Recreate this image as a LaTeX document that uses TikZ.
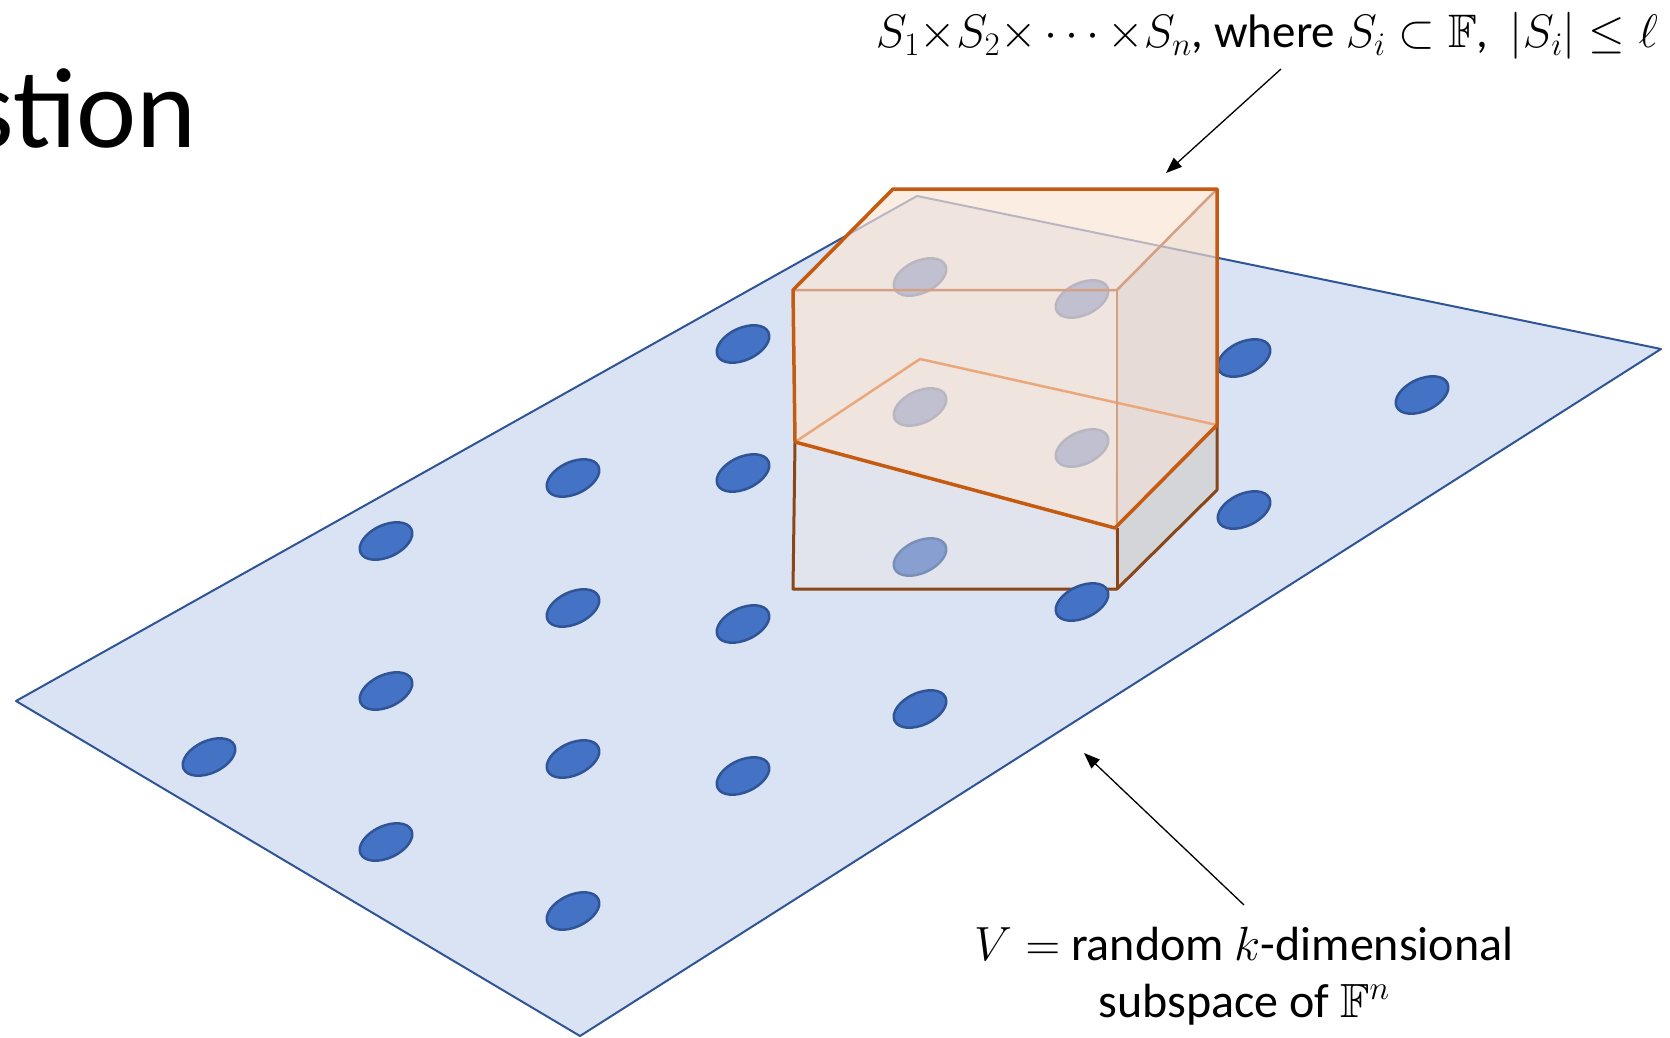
\RequirePackage{fix-cm}
\documentclass[tikz,border=0pt]{standalone}
\usepackage{amssymb}
\usepackage{fontspec}
\setmainfont{Carlito}
\usetikzlibrary{arrows.meta}
\definecolor{planefill}{HTML}{DAE3F3}
\definecolor{planeline}{HTML}{2F5597}
\definecolor{dotfill}{HTML}{4472C4}
\definecolor{dotline}{HTML}{2F5597}
\definecolor{orangeline}{HTML}{C55A11}
\definecolor{brownline}{HTML}{8A4616}
\definecolor{tanline}{HTML}{D3A181}
\definecolor{backline}{HTML}{E9A77B}
\definecolor{boxfill}{HTML}{FBE5D6}
\definecolor{lowfront}{HTML}{EDE6E6}
\definecolor{lowright}{HTML}{CBC0B4}
\tikzset{
  bluedot/.style={fill=dotfill, draw=dotline, line width=2.5pt},
  thickedge/.style={draw=orangeline, line width=3.5pt, line join=round},
  thinedge/.style={draw=tanline, line width=2.5pt},
  backedge/.style={draw=backline, line width=2.5pt, line join=round},
  lowedge/.style={draw=brownline, line width=3pt, line join=round},
  pointer/.style={line width=1.3pt, -{Triangle[length=16pt,width=12pt]}},
  lbl/.style={inner sep=0pt}
}
\begin{document}
\begin{tikzpicture}[x=1pt,y=-1pt]
\useasboundingbox (0,0) rectangle (1670,1038);
\clip (0,0) rectangle (1670,1038);
\fill[white] (0,0) rectangle (1670,1038);

% title fragment
\node[lbl, anchor=base east, font=\fontsize{114}{130}\selectfont] (title) at (197,147) {stion};

% plane
\draw[fill=planefill, draw=planeline, line width=2pt, line join=round]
  (16,701) -- (917,196) -- (1661,349) -- (580,1036) -- cycle;

% dots on the plane
\foreach \p in {(743,344),(1244,358),(1422,395),(573,478),(743,473),(1244,510),
                (386,541),(573,608),(743,624),(386,691),(920,709),(209,757),
                (573,759),(743,776),(386,842),(573,911),
                (920,277),(1082,299),(920,407),(1082,448),(920,557)}
  \draw[bluedot] \p ellipse [x radius=28, y radius=16, rotate=25];

% lower part of the box
\fill[lowfront, opacity=0.4] (795,442) -- (1115,528) -- (1117,589) -- (793,589) -- cycle;
\fill[lowright, opacity=0.4] (1115,528) -- (1217,425) -- (1217,490) -- (1117,589) -- cycle;

% upper translucent part of the box
\fill[boxfill, opacity=0.68] (793,290) -- (893,189) -- (1217,189) -- (1217,425)
  -- (1115,528) -- (795,442) -- cycle;
\fill[black, opacity=0.035] (1117,290) -- (1217,189) -- (1217,425) -- (1115,528) -- cycle;

% inner edges
\draw[backedge] (795,442) -- (920,359) -- (1217,425);
\draw[thinedge] (793,290) -- (1117,290) -- (1217,189);
\draw[thinedge] (1117,290) -- (1117,528);

% lower edges
\draw[lowedge] (795,442) -- (793,589) -- (1117,589) -- (1217,490) -- (1217,425);
\draw[lowedge] (1117,528) -- (1117,589);

% outer orange edges
\draw[thickedge] (795,442) -- (793,290) -- (893,189) -- (1217,189) -- (1217,425);
\draw[thickedge] (795,442) -- (1115,528) -- (1217,425);

% front dot
\draw[bluedot] (1082,602) ellipse [x radius=28, y radius=16, rotate=25];

% labels
\node[lbl, anchor=base east, font=\fontsize{47}{56}\selectfont] (setlabel) at (1658,48)
  {$S_1{\times}S_2{\times}\,{\cdots}\,{\times}S_n$, where $S_i\subset\mathbb{F}$, \ $|S_i|\leq\ell$};
\node[lbl, anchor=base, align=center, font=\fontsize{48}{57}\selectfont] (vlabel) at (1244,1017)
  {$V=$ random $k$-dimensional\\subspace of $\mathbb{F}^n$};

% arrows
\coordinate (topstart) at (1281,69);
\coordinate (boxtop) at (1166,173);
\coordinate (botstart) at (1244,905);
\coordinate (planeedge) at (1084,753);
\draw[pointer] (topstart) -- (boxtop);
\draw[pointer] (botstart) -- (planeedge);
\end{tikzpicture}
\end{document}
